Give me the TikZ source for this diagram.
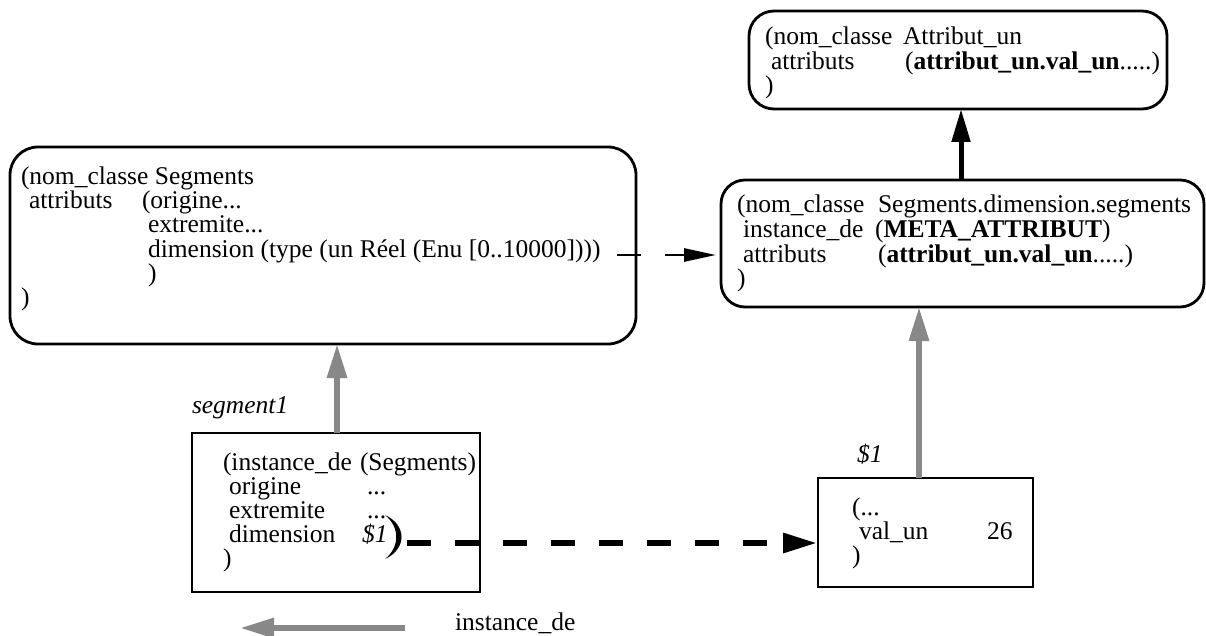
\documentclass[tikz,border=0pt]{standalone}
\usepackage{fontspec}
\setmainfont{Liberation Serif}
\usetikzlibrary{arrows.meta}
\definecolor{arrgray}{RGB}{136,136,136}
\begin{document}
\begin{tikzpicture}[x=1pt,y=-1pt,
  txt/.style={anchor=base west, inner sep=0pt, outer sep=0pt, font=\fontsize{25.5}{24.5}\selectfont},
  itxt/.style={txt, font=\fontsize{25.5}{24.5}\selectfont\itshape},
  rbox/.style={draw, line width=2.8pt, rounded corners=#1, inner sep=0pt, outer sep=0pt},
  sbox/.style={draw, line width=2.6pt, inner sep=0pt, outer sep=0pt},
  grayarrow/.style={draw=arrgray, line width=6pt, -{Triangle[length=34pt,width=19pt]}, arrgray},
  blackarrow/.style={line width=5pt, -{Triangle[length=33pt,width=18pt]}},
  thindash/.style={line width=2.6pt, dash pattern=on 24pt off 24pt, -{Triangle[length=32pt,width=13pt]}},
  thickdash/.style={line width=6pt, dash pattern=on 23.5pt off 24.5pt, -{Triangle[length=34pt,width=19pt]}}
]
\useasboundingbox (0,0) rectangle (1206,636);

% boxes
\node[rbox=28pt, minimum width=626pt, minimum height=197pt] (seg) at (323,245.5) {};
\node[rbox=24pt, minimum width=483pt, minimum height=127pt] (rb) at (962.5,243.5) {};
\node[rbox=25pt, minimum width=418pt, minimum height=98pt] (ab) at (958,60) {};
\node[sbox, minimum width=288pt, minimum height=159pt] (s1) at (336,512.5) {};
\node[sbox, minimum width=215pt, minimum height=109pt] (vb) at (925.5,532.5) {};

% Segments box text
\node[txt] (sa1) at (21,185) {(nom\_classe Segments};
\node[txt] (sa2) at (29,209) {attributs};
\node[txt] (sa3) at (142,209) {(origine...};
\node[txt] (sa4) at (148,233) {extremite...};
\node[txt] (sa5) at (148,257) {dimension (type (un Réel (Enu [0..10000])))};
\node[txt] (sa6) at (148,281) {)};
\node[txt] (sa7) at (21,305) {)};

% right box text
\node[txt] (rb1) at (737,213) {(nom\_classe};
\node[txt] (rb2) at (878,213) {Segments.dimension.segments};
\node[txt] (rb3) at (743,237.5) {instance\_de};
\node[txt] (rb4) at (875,237.5) {(\textbf{META\_ATTRIBUT})};
\node[txt] (rb5) at (743,262) {attributs};
\node[txt] (rb6) at (878,262) {(\textbf{attribut\_un.val\_un}.....)};
\node[txt] (rb7) at (737,286.5) {)};

% Attribut_un box text
\node[txt] (ab1) at (765,45) {(nom\_classe};
\node[txt] (ab2) at (903,45) {Attribut\_un};
\node[txt] (ab3) at (771,69.5) {attributs};
\node[txt] (ab4) at (905,69.5) {(\textbf{attribut\_un.val\_un}.....)};
\node[txt] (ab5) at (765,94) {)};

% segment1 box text
\node[txt] (s11) at (223,470) {(instance\_de};
\node[txt] (s12) at (360,470) {(Segments)};
\node[txt] (s13) at (229,494) {origine};
\node[txt] (s14) at (367,494) {...};
\node[txt] (s15) at (229,518) {extremite};
\node[txt] (s16) at (367,518) {...};
\node[txt] (s17) at (229,542) {dimension};
\node[itxt] (s18) at (362,542) {\$1};
\node[txt] (s19) at (223,566) {)};

% $1 box text
\node[txt] (vb1) at (852,515) {(...};
\node[txt] (vb2) at (859,539) {val\_un};
\node[txt] (vb3) at (987,539) {26};
\node[txt] (vb4) at (852,563) {)};

% labels
\node[itxt] (lseg) at (192,413) {segment1};
\node[itxt] (ldol) at (857,462) {\$1};
\node[txt] (lleg) at (455,630) {instance\_de};

% bold parenthesis
\fill (385,515) .. controls (407,525) and (407,549) .. (385,559)
      .. controls (400,547) and (400,527) .. (385,515) -- cycle;

% connectors
\coordinate (d1) at (617,255);
\draw[thindash] (d1) -- ([xshift=-5pt]rb.west |- d1);
\coordinate (d2) at (407,543);
\draw[thickdash] (d2) -- ([xshift=-1pt]vb.west |- d2);

\draw[grayarrow] ([xshift=1pt]s1.north) -- ([xshift=1pt]s1.north |- seg.south);
\draw[grayarrow] ([xshift=-6.5pt]vb.north) -- ([xshift=-6.5pt]vb.north |- rb.south);
\draw[blackarrow] ([xshift=-1.5pt]rb.north) -- ([xshift=-1.5pt]rb.north |- ab.south);

% legend
\coordinate (la) at (405,628);
\coordinate (lb) at (240,628);
\draw[grayarrow] (la) -- (lb);
\end{tikzpicture}
\end{document}
